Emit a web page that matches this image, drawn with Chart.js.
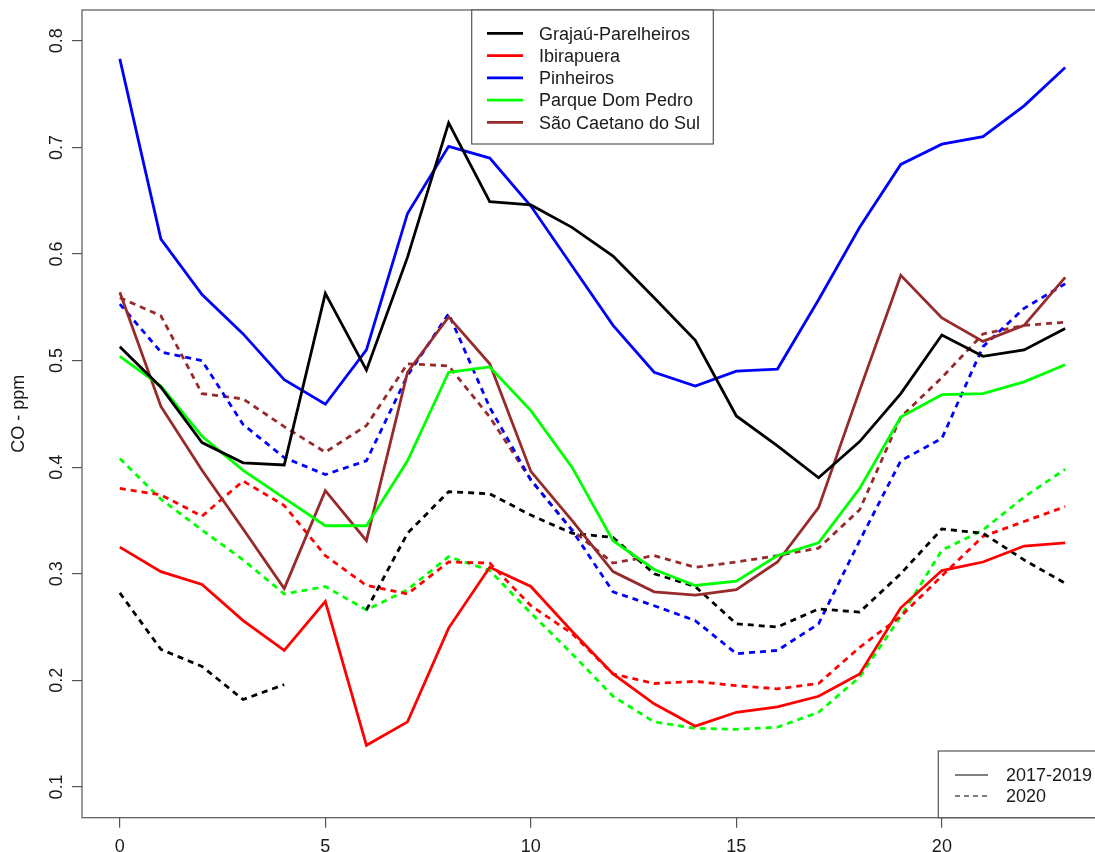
<!DOCTYPE html>
<html>
<head>
<meta charset="utf-8">
<script src="https://cdn.jsdelivr.net/npm/chart.js@4.4.1/dist/chart.umd.min.js"></script>
<style>
  html, body { margin: 0; padding: 0; background: #fff; overflow: hidden; }
  #wrap { width: 1110px; height: 852px; }
</style>
</head>
<body>
<div id="wrap"><canvas id="myChart" width="1110" height="852"></canvas></div>
<script>
// hours of the day
const hours = [0, 1, 2, 3, 4, 5, 6, 7, 8, 9, 10, 11, 12, 13, 14, 15, 16, 17, 18, 19, 20, 21, 22, 23];
const xTicks = [0, 5, 10, 15, 20];
const yTicks = [0.1, 0.2, 0.3, 0.4, 0.5, 0.6, 0.7, 0.8];

const stations = ['Grajaú-Parelheiros', 'Ibirapuera', 'Pinheiros', 'Parque Dom Pedro', 'São Caetano do Sul'];
const colors = ['#000000', '#ff0000', '#0000ff', '#00ff00', '#972a2a'];
const periods = ['2017-2019', '2020'];

// 2017-2019 means (solid)
const grajau1719 = [0.513, 0.475, 0.423, 0.404, 0.402, 0.563, 0.491, 0.597, 0.723, 0.649, 0.646, 0.625, 0.598, 0.559, 0.519, 0.448, 0.420, 0.390, 0.424, 0.469, 0.524, 0.504, 0.510, 0.530];
const ibira1719 = [0.325, 0.302, 0.290, 0.256, 0.228, 0.274, 0.139, 0.161, 0.249, 0.306, 0.288, 0.246, 0.206, 0.178, 0.157, 0.170, 0.175, 0.185, 0.206, 0.268, 0.303, 0.311, 0.326, 0.329];
const pinh1719 = [0.783, 0.614, 0.562, 0.525, 0.482, 0.459, 0.510, 0.638, 0.701, 0.690, 0.645, 0.589, 0.533, 0.489, 0.476, 0.490, 0.492, 0.557, 0.625, 0.684, 0.703, 0.710, 0.739, 0.775];
const pdp1719 = [0.504, 0.476, 0.429, 0.397, 0.371, 0.345, 0.345, 0.406, 0.489, 0.494, 0.453, 0.400, 0.331, 0.304, 0.289, 0.293, 0.317, 0.329, 0.380, 0.447, 0.468, 0.469, 0.480, 0.496];
const scs1719 = [0.564, 0.457, 0.397, 0.342, 0.286, 0.378, 0.331, 0.489, 0.541, 0.497, 0.396, 0.350, 0.302, 0.283, 0.280, 0.285, 0.311, 0.362, 0.472, 0.580, 0.540, 0.518, 0.533, 0.578];

// 2020 means (dashed)
const grajau2020 = [0.282, 0.229, 0.213, 0.182, 0.196, null, 0.266, 0.338, 0.377, 0.375, 0.355, 0.338, 0.334, 0.300, 0.288, 0.253, 0.250, 0.267, 0.264, 0.300, 0.342, 0.338, 0.313, 0.291];
const ibira2020 = [0.380, 0.374, 0.354, 0.387, 0.364, 0.317, 0.289, 0.281, 0.311, 0.310, 0.270, 0.244, 0.206, 0.197, 0.199, 0.195, 0.192, 0.197, 0.231, 0.260, 0.298, 0.335, 0.349, 0.363];
const pinh2020 = [0.553, 0.508, 0.500, 0.440, 0.409, 0.393, 0.406, 0.486, 0.544, 0.456, 0.388, 0.341, 0.283, 0.270, 0.256, 0.225, 0.228, 0.253, 0.331, 0.406, 0.427, 0.513, 0.549, 0.572];
const pdp2020 = [0.408, 0.370, 0.341, 0.313, 0.281, 0.288, 0.266, 0.285, 0.316, 0.303, 0.263, 0.225, 0.185, 0.161, 0.155, 0.154, 0.156, 0.170, 0.203, 0.260, 0.322, 0.341, 0.372, 0.398];
const scs2020 = [0.559, 0.542, 0.469, 0.464, 0.438, 0.414, 0.439, 0.497, 0.495, 0.447, 0.388, 0.341, 0.310, 0.317, 0.306, 0.311, 0.317, 0.324, 0.360, 0.447, 0.484, 0.525, 0.533, 0.536];

const solid = [grajau1719, ibira1719, pinh1719, pdp1719, scs1719];
const dashed = [grajau2020, ibira2020, pinh2020, pdp2020, scs2020];

const FONT = '"Liberation Sans", Arial, sans-serif';
const DASH = [6, 5];

const datasets = [];
stations.forEach(function(name, i) {
  datasets.push({
    label: name + ' ' + periods[0],
    data: hours.map(function(h, j) { return { x: h, y: solid[i][j] }; }),
    borderColor: colors[i],
    borderWidth: 2.8,
    pointRadius: 0,
    tension: 0,
    fill: false
  });
});
stations.forEach(function(name, i) {
  datasets.push({
    label: name + ' ' + periods[1],
    data: hours.map(function(h, j) { return { x: h, y: dashed[i][j] }; }),
    borderColor: colors[i],
    borderWidth: 2.8,
    borderDash: DASH,
    pointRadius: 0,
    tension: 0,
    spanGaps: false,
    fill: false
  });
});

// R-style frame, rotated tick labels and the two legends
const rStyle = {
  id: 'rStyle',
  afterDraw(chart) {
    const ctx = chart.ctx;
    const a = chart.chartArea;
    const xs = chart.scales.x;
    const ys = chart.scales.y;
    ctx.save();

    // frame
    ctx.strokeStyle = '#555';
    ctx.lineWidth = 1.2;
    ctx.strokeRect(a.left, a.top, a.right - a.left, a.bottom - a.top);

    ctx.fillStyle = '#1a1a1a';
    ctx.font = '18px ' + FONT;

    // x tick labels
    ctx.textAlign = 'center';
    ctx.textBaseline = 'alphabetic';
    xTicks.forEach(function(v) {
      ctx.fillText(String(v), xs.getPixelForValue(v), 851.5);
    });

    // y tick labels (rotated like R's las=0)
    yTicks.forEach(function(v) {
      ctx.save();
      ctx.translate(61.5, ys.getPixelForValue(v));
      ctx.rotate(-Math.PI / 2);
      ctx.fillText(v.toFixed(1), 0, 0);
      ctx.restore();
    });

    // y title
    ctx.save();
    ctx.translate(23.5, (a.top + a.bottom) / 2);
    ctx.rotate(-Math.PI / 2);
    ctx.font = '18px ' + FONT;
    ctx.fillText('CO - ppm', 0, 0);
    ctx.restore();

    // legend of stations (top centre)
    const w1 = 241.6, h1 = 134;
    const l1 = (a.left + a.right) / 2 - w1 / 2;
    const t1 = a.top;
    ctx.fillStyle = '#fff';
    ctx.fillRect(l1, t1, w1, h1);
    ctx.strokeStyle = '#555';
    ctx.lineWidth = 1.2;
    ctx.strokeRect(l1, t1, w1, h1);
    ctx.textAlign = 'left';
    stations.forEach(function(name, i) {
      const y = t1 + 23.3 + i * 22.25;
      ctx.strokeStyle = colors[i];
      ctx.lineWidth = 2.8;
      ctx.beginPath();
      ctx.moveTo(l1 + 15.3, y);
      ctx.lineTo(l1 + 51.3, y);
      ctx.stroke();
      ctx.fillStyle = '#1a1a1a';
      ctx.fillText(name, l1 + 67.3, y + 6.4);
    });

    // legend of periods (bottom right)
    const w2 = 164.7, h2 = 66.7;
    const l2 = a.right - w2;
    const t2 = a.bottom - h2;
    ctx.fillStyle = '#fff';
    ctx.fillRect(l2, t2, w2, h2);
    ctx.strokeStyle = '#555';
    ctx.lineWidth = 1.2;
    ctx.strokeRect(l2, t2, w2, h2);
    periods.forEach(function(p, i) {
      const y = t2 + 24 + i * 21;
      ctx.strokeStyle = '#555';
      ctx.lineWidth = 1.3;
      ctx.setLineDash(i === 0 ? [] : [5, 4]);
      ctx.beginPath();
      ctx.moveTo(l2 + 16.7, y);
      ctx.lineTo(l2 + 49.7, y);
      ctx.stroke();
      ctx.setLineDash([]);
      ctx.fillStyle = '#1a1a1a';
      ctx.fillText(p, l2 + 67.7, y + 6.4);
    });

    ctx.restore();
  }
};

const config = {
  type: 'line',
  data: { datasets: datasets },
  options: {
    responsive: false,
    animation: false,
    devicePixelRatio: 1,
    layout: { padding: { left: 0, top: 10, right: 7, bottom: 0 } },
    plugins: {
      legend: { display: false },
      tooltip: { enabled: false }
    },
    scales: {
      x: {
        type: 'linear',
        min: -0.92,
        max: 23.92,
        afterBuildTicks: function(scale) {
          scale.ticks = xTicks.map(function(v) { return { value: v }; });
        },
        afterFit: function(scale) { scale.height = 34.3; },
        ticks: { display: false },
        border: { display: false },
        grid: { drawOnChartArea: false, drawTicks: true, tickLength: 10, color: '#555', lineWidth: 1.2 }
      },
      y: {
        type: 'linear',
        min: 0.0711,
        max: 0.8289,
        afterBuildTicks: function(scale) {
          scale.ticks = yTicks.map(function(v) { return { value: v }; });
        },
        afterFit: function(scale) { scale.width = 82; },
        ticks: { display: false },
        border: { display: false },
        grid: { drawOnChartArea: false, drawTicks: true, tickLength: 10, color: '#555', lineWidth: 1.2 }
      }
    }
  },
  plugins: [rStyle]
};

const myChart = new Chart(document.getElementById('myChart'), config);
</script>
</body>
</html>
